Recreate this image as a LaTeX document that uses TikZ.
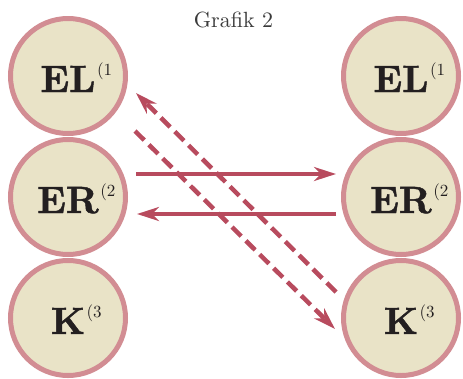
\documentclass[tikz,border=0pt]{standalone}
\usepackage{fontspec}
\usetikzlibrary{arrows.meta}
\newfontfamily\heavybf{lmroman10-bold.otf}[FakeBold=1.2]
\newfontfamily\plainrm{lmroman10-regular.otf}
\definecolor{cfill}{HTML}{E9E3C7}
\definecolor{cborder}{HTML}{D28D93}
\definecolor{carrow}{HTML}{B84B5E}
\definecolor{ctext}{HTML}{231F20}
\definecolor{ctitle}{HTML}{3A3A3A}
\newcommand{\supx}[1]{\rlap{\hspace{1.5pt}\raisebox{17pt}{\plainrm\fontsize{17}{17}\selectfont(#1}}}
\tikzset{
  ball/.style={circle, draw=cborder, fill=cfill, line width=5pt, minimum size=115pt, inner sep=0pt},
  lbl/.style={text=ctext, font=\heavybf\fontsize{38}{38}\selectfont, anchor=base, inner sep=0pt, yshift=-16pt},
  conn/.style={draw=carrow, line width=4.5pt, -{Stealth[length=22pt,width=14pt,inset=7pt]}},
  dconn/.style={conn, dash pattern=on 13pt off 6.5pt},
}
\begin{document}
\begin{tikzpicture}[x=1pt,y=-1pt]
\useasboundingbox (0,0) rectangle (463,378);
\node[text=ctitle, font=\plainrm\fontsize{22}{22}\selectfont, anchor=base] (title) at (233.5,27) {Grafik 2};
\node[ball] (el1) at (68,76) {};
\node[ball] (er1) at (68,197) {};
\node[ball] (k1) at (68,318) {};
\node[ball] (el2) at (401,76) {};
\node[ball] (er2) at (401,197) {};
\node[ball] (k2) at (401,318) {};
\node[lbl] (tel1) at (el1) {EL\supx{1}};
\node[lbl] (ter1) at (er1) {ER\supx{2}};
\node[lbl] (tk1) at (k1) {K\supx{3}};
\node[lbl] (tel2) at (el2) {EL\supx{1}};
\node[lbl] (ter2) at (er2) {ER\supx{2}};
\node[lbl] (tk2) at (k2) {K\supx{3}};
\draw[conn] ([shift={(68,-23)}]er1.center) -- ([shift={(-65,-23)}]er2.center);
\draw[conn] ([shift={(-65,17)}]er2.center) -- ([shift={(69,17)}]er1.center);
\draw[dconn] ([shift={(-65,-26)}]k2.center) -- ([shift={(68,17)}]el1.center);
\draw[dconn] ([shift={(67,55)}]el1.center) -- ([shift={(-66,11)}]k2.center);
\end{tikzpicture}
\end{document}
